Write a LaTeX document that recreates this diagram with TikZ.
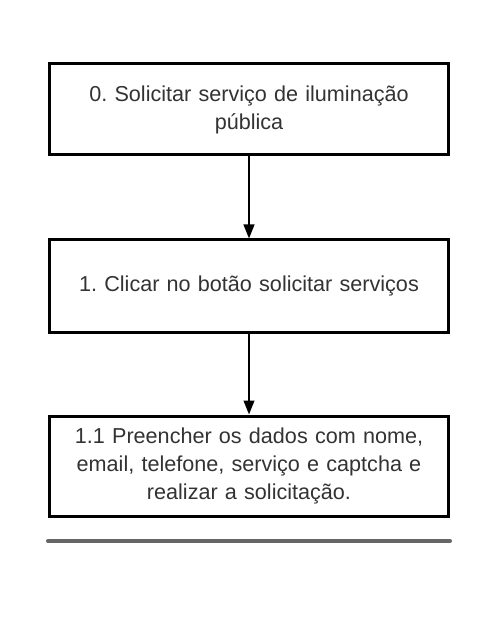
\documentclass[tikz,border=0pt]{standalone}
\usepackage{fontspec}
\setmainfont{Liberation Sans}
\usetikzlibrary{arrows.meta}
\definecolor{txt}{HTML}{333333}
\definecolor{rule}{HTML}{666666}
\begin{document}
\frenchspacing
\begin{tikzpicture}[x=0.75pt,y=-0.75pt,
  stepbox/.style={draw=black,line width=2.25pt,fill=white,minimum width=299.25pt,
    text width=290pt,align=center,text=txt,font=\fontsize{16.2}{21}\selectfont,inner sep=0pt},
  flow/.style={draw=black,line width=1.5pt,-{Triangle[length=10.5pt,width=8pt]}}]
\useasboundingbox (0,0) rectangle (489,630);
\node[stepbox,minimum height=68.25pt] (a) at (249,109.5) {0. Solicitar serviço de iluminação\\pública};
\node[stepbox,minimum height=69pt] (b) at (249,286) {1. Clicar no botão solicitar serviços};
\node[stepbox,minimum height=75pt] (c) at (249,466) {1.1 Preencher os dados com nome,\\email, telefone, serviço e captcha e\\realizar a solicitação.};
\draw[flow] (a) -- (b);
\draw[flow] (b) -- (c);
\coordinate (l1) at (48,541);
\coordinate (l2) at (450,541);
\draw[rule,line width=3pt,line cap=round] (l1) -- (l2);
\end{tikzpicture}
\end{document}
